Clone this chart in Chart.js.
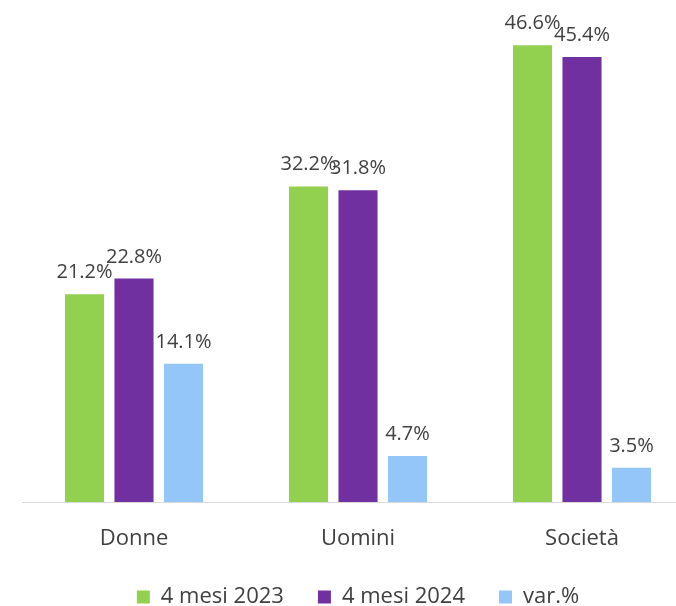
<!DOCTYPE html>
<html>
<head>
<meta charset="utf-8">
<script src="https://cdn.jsdelivr.net/npm/chart.js@4"></script>
<style>
  html, body { margin: 0; padding: 0; background: #fff; overflow: hidden; }
  #wrap { width: 716px; height: 606px; position: relative; }
</style>
</head>
<body>
<div id="wrap"><canvas id="grafico"></canvas></div>
<script>
// categorie e serie (valori in %)
const CATEGORIE = ["Donne", "Uomini", "Società"];
const MESI_2023 = [21.2, 32.2, 46.6];
const MESI_2024 = [22.8, 31.8, 45.4];
const VAR_PERC = [14.1, 4.7, 3.5];

const COL_2023 = '#92d050';
const COL_2024 = '#7030a0';
const COL_VAR = '#94c6f9';
const TESTO = '#404040';
const FONT = "'Open Sans', 'Liberation Sans', sans-serif";

// etichette dei valori sopra le barre
const etichette = {
  id: 'etichette',
  afterDatasetsDraw(chart) {
    const ctx = chart.ctx;
    ctx.save();
    ctx.font = '20px ' + FONT;
    ctx.fillStyle = TESTO;
    ctx.textAlign = 'center';
    ctx.textBaseline = 'alphabetic';
    chart.data.datasets.forEach((ds, i) => {
      chart.getDatasetMeta(i).data.forEach((bar, j) => {
        ctx.fillText(ds.data[j].toFixed(1) + '%', bar.x, bar.y - 16);
      });
    });
    ctx.restore();
  }
};

new Chart(document.getElementById('grafico'), {
  type: 'bar',
  data: {
    labels: CATEGORIE,
    datasets: [
      { label: '4 mesi 2023', data: MESI_2023, backgroundColor: COL_2023 },
      { label: '4 mesi 2024', data: MESI_2024, backgroundColor: COL_2024 },
      { label: 'var.%', data: VAR_PERC, backgroundColor: COL_VAR }
    ]
  },
  options: {
    responsive: true,
    maintainAspectRatio: false,
    animation: false,
    datasets: { bar: { categoryPercentage: 0.663, barPercentage: 0.79 } },
    layout: { padding: { left: 22, right: 22, top: 12, bottom: -12 } },
    scales: {
      y: { display: false, min: 0, max: 50 },
      x: {
        grid: { display: false },
        border: { color: '#d9d9d9', width: 1 },
        ticks: { color: TESTO, font: { family: FONT, size: 22 }, padding: 16 },
        afterFit(scale) { scale.height = 50; }
      }
    },
    plugins: {
      tooltip: { enabled: false },
      legend: {
        position: 'bottom',
        labels: {
          color: TESTO,
          font: { family: FONT, size: 22 },
          boxWidth: 13, boxHeight: 13,
          padding: 34
        }
      }
    }
  },
  plugins: [etichette]
});
</script>
</body>
</html>
